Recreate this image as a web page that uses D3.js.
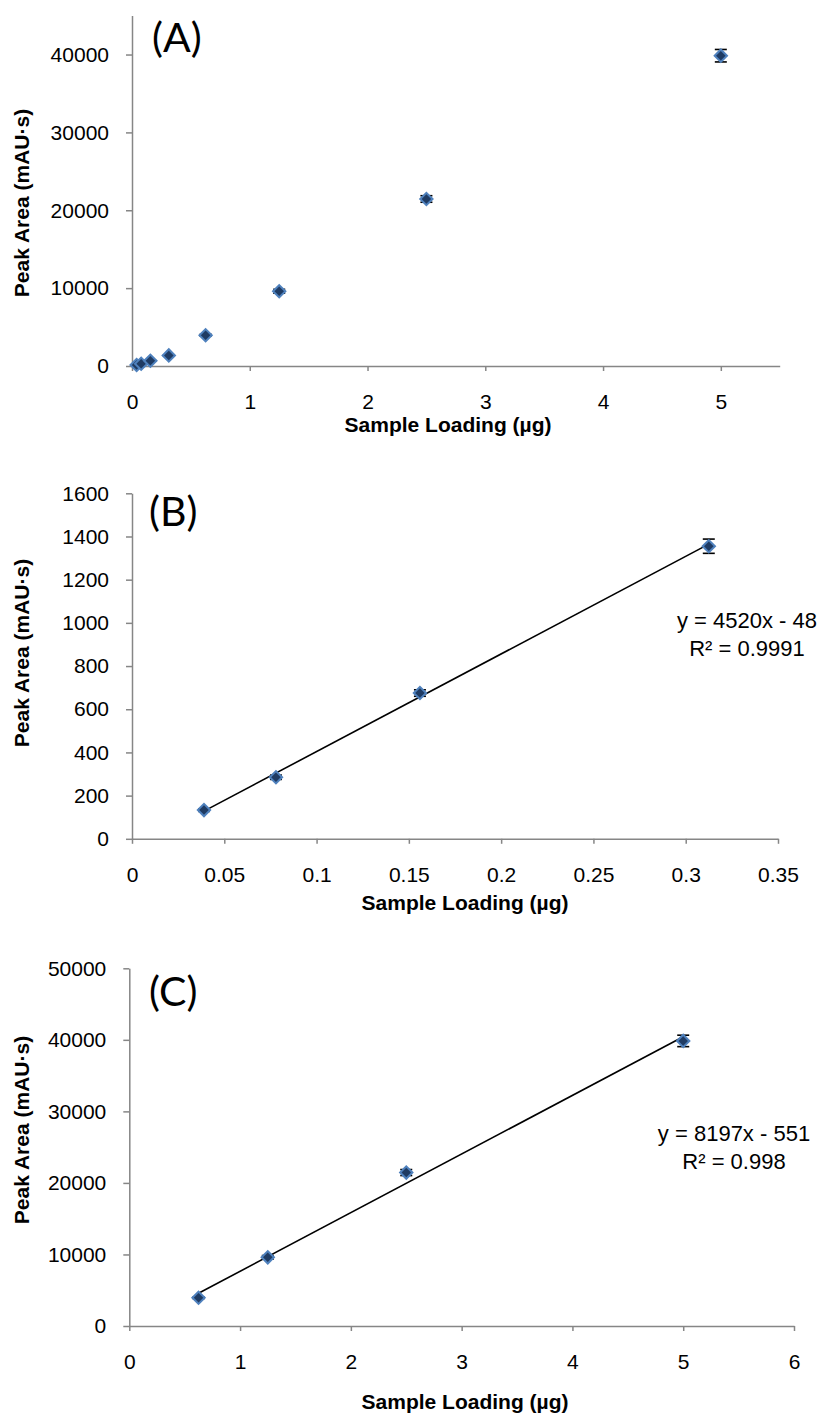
<!DOCTYPE html>
<html>
<head>
<meta charset="utf-8">
<script src="https://cdn.jsdelivr.net/npm/d3@7"></script>
<style>
  html, body { margin: 0; padding: 0; background: #fff; }
  svg { display: block; }
  .tick text { font-family: "Liberation Sans", Arial, sans-serif; font-size: 21px; fill: #000; }
  .axis path, .axis line { stroke: #868686; stroke-width: 1.5; }
  .title { font-family: "Liberation Sans", Arial, sans-serif; font-size: 21px; font-weight: bold; fill: #000; }
  .panel { font-family: Lato, "Open Sans", sans-serif; font-size: 41px; fill: #000; }
  .eq { font-family: "Liberation Sans", Arial, sans-serif; font-size: 22px; fill: #000; }
</style>
</head>
<body>
<script>
// Calibration data: sample loading (µg) vs. peak area (mAU·s), mean ± SD
const loadingAll = [0.039, 0.078, 0.156, 0.3125, 0.625, 1.25, 2.5, 5];
const areaAll    = [133, 285, 675, 1355, 3950, 9600, 21450, 39850];
const sdAll      = [6, 10, 15, 33, 120, 250, 420, 800];

// Low range subset (B)
const loadingLow = [0.039, 0.078, 0.156, 0.3125];
const areaLow    = [133, 285, 675, 1355];
const sdLow      = [6, 10, 15, 33];

// High range subset (C)
const loadingHigh = [0.625, 1.25, 2.5, 5];
const areaHigh    = [3950, 9600, 21450, 39850];
const sdHigh      = [120, 250, 420, 800];

// Linear fits reported on the charts
const fitLow  = { slope: 4520, intercept: -48, r2: "0.9991" };
const fitHigh = { slope: 8197, intercept: -551, r2: "0.998" };

// Tick values
const xTicksA = [0, 1, 2, 3, 4, 5];
const yTicksA = [0, 10000, 20000, 30000, 40000];
const xTicksB = [0, 0.05, 0.1, 0.15, 0.2, 0.25, 0.3, 0.35];
const yTicksB = [0, 200, 400, 600, 800, 1000, 1200, 1400, 1600];
const xTicksC = [0, 1, 2, 3, 4, 5, 6];
const yTicksC = [0, 10000, 20000, 30000, 40000, 50000];

const svg = d3.select("body").append("svg")
  .attr("width", 826).attr("height", 1416);

function panel(cfg) {
  const x = d3.scaleLinear().domain(cfg.xDomain).range(cfg.xRange);
  const y = d3.scaleLinear().domain(cfg.yDomain).range(cfg.yRange);
  const g = svg.append("g");

  // axes
  g.append("g").attr("class", "axis")
    .attr("transform", `translate(0,${cfg.yRange[0]})`)
    .call(d3.axisBottom(x).tickValues(cfg.xTicks).tickFormat(d => String(d))
      .tickSize(5).tickSizeOuter(0).tickPadding(23));
  g.append("g").attr("class", "axis")
    .attr("transform", `translate(${cfg.xRange[0]},0)`)
    .call(d3.axisLeft(y).tickValues(cfg.yTicks).tickFormat(d => String(d))
      .tickSize(6).tickSizeOuter(0).tickPadding(17));

  // trend line from the reported fit
  if (cfg.fit) {
    const ext = d3.extent(cfg.xs);
    const line = d3.line().x(d => x(d)).y(d => y(cfg.fit.slope * d + cfg.fit.intercept));
    g.append("path").datum(ext)
      .attr("d", line).attr("fill", "none")
      .attr("stroke", "#000").attr("stroke-width", 1.6);
  }

  const pts = cfg.xs.map((v, i) => ({ x: v, y: cfg.ys[i], sd: cfg.sds[i] }));

  // error bars
  const eb = g.append("g").attr("stroke", "#000").attr("stroke-width", 1.6);
  pts.forEach(p => {
    const cx = x(p.x), y1 = y(p.y - p.sd), y2 = y(p.y + p.sd);
    eb.append("line").attr("x1", cx).attr("x2", cx).attr("y1", y1).attr("y2", y2);
    eb.append("line").attr("x1", cx - 6).attr("x2", cx + 6).attr("y1", y1).attr("y2", y1);
    eb.append("line").attr("x1", cx - 6).attr("x2", cx + 6).attr("y1", y2).attr("y2", y2);
  });

  // diamond markers
  const sym = d3.symbol().type(d3.symbolSquare).size(76);
  g.append("g").selectAll("path").data(pts).join("path")
    .attr("d", sym)
    .attr("transform", d => `translate(${x(d.x)},${y(d.y)}) rotate(45)`)
    .attr("fill", "#1F3B63").attr("stroke", "#4F81BD").attr("stroke-width", 2);

  // titles
  g.append("text").attr("class", "title")
    .attr("x", cfg.xTitle[0]).attr("y", cfg.xTitle[1])
    .attr("text-anchor", "middle").text("Sample Loading (µg)");
  g.append("text").attr("class", "title")
    .attr("transform", `translate(${cfg.yTitle[0]},${cfg.yTitle[1]}) rotate(-90)`)
    .attr("text-anchor", "middle").text("Peak Area (mAU·s)");
  g.append("text").attr("class", "panel")
    .attr("x", cfg.label[0]).attr("y", cfg.label[1]).text(cfg.labelText);

  if (cfg.fit) {
    const sign = cfg.fit.intercept < 0 ? "-" : "+";
    const eq = `y = ${cfg.fit.slope}x ${sign} ${Math.abs(cfg.fit.intercept)}`;
    g.append("text").attr("class", "eq").attr("text-anchor", "middle")
      .attr("x", cfg.eqPos[0]).attr("y", cfg.eqPos[1]).text(eq);
    g.append("text").attr("class", "eq").attr("text-anchor", "middle")
      .attr("x", cfg.eqPos[0]).attr("y", cfg.eqPos[1] + 28).text(`R² = ${cfg.fit.r2}`);
  }
}

panel({
  xDomain: [0, 5.5], xRange: [132, 779.7],
  yDomain: [0, 45000], yRange: [366, 15.6],
  xTicks: xTicksA, yTicks: yTicksA,
  xs: loadingAll, ys: areaAll, sds: sdAll,
  xTitle: [448, 432], yTitle: [29, 203],
  label: [152, 52], labelText: "(A)"
});

panel({
  xDomain: [0, 0.35], xRange: [132, 778],
  yDomain: [0, 1600], yRange: [838.8, 493.3],
  xTicks: xTicksB, yTicks: yTicksB,
  xs: loadingLow, ys: areaLow, sds: sdLow,
  fit: fitLow, eqPos: [747, 628],
  xTitle: [465, 910], yTitle: [29, 653],
  label: [149, 526], labelText: "(B)"
});

panel({
  xDomain: [0, 6], xRange: [129.3, 794],
  yDomain: [0, 50000], yRange: [1326, 968.3],
  xTicks: xTicksC, yTicks: yTicksC,
  xs: loadingHigh, ys: areaHigh, sds: sdHigh,
  fit: fitHigh, eqPos: [734, 1141],
  xTitle: [465, 1409], yTitle: [29, 1130],
  label: [149, 1006], labelText: "(C)"
});
</script>
</body>
</html>
